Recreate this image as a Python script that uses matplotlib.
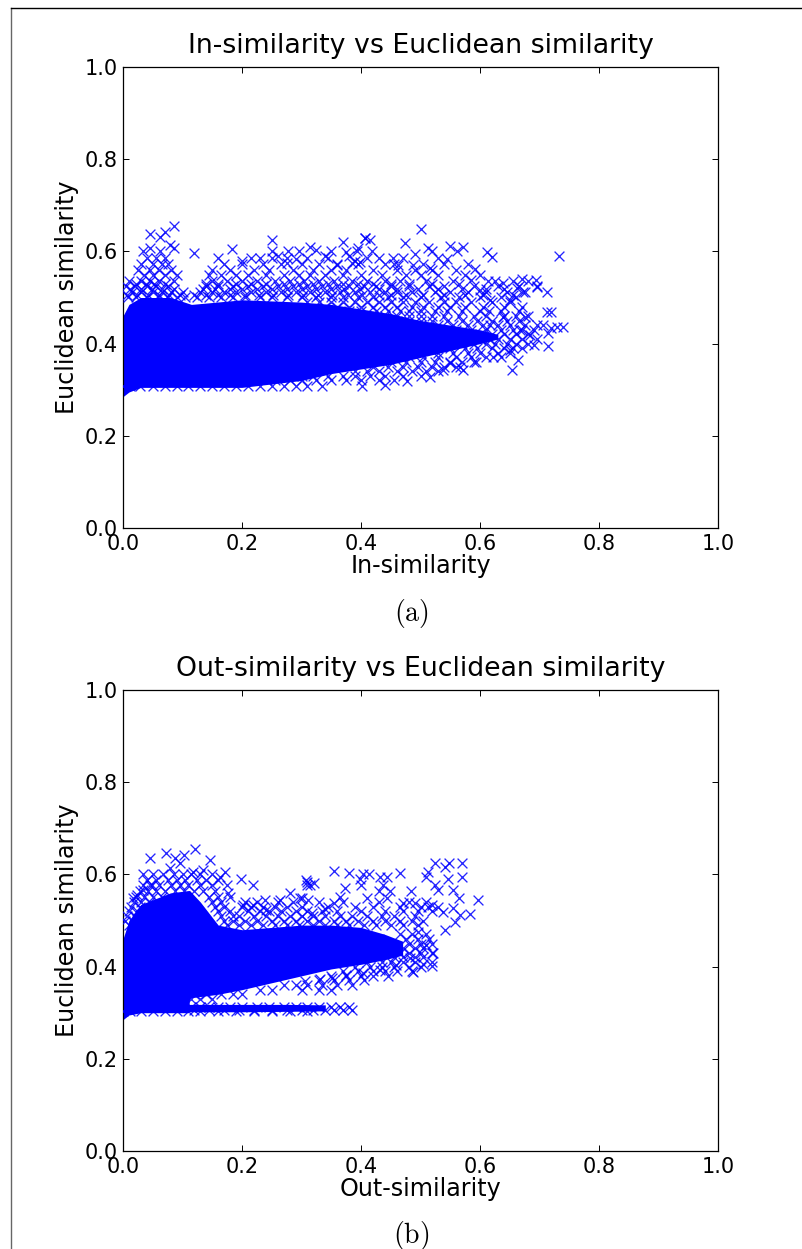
import matplotlib
matplotlib.use("Agg")
import matplotlib.pyplot as plt
from matplotlib.lines import Line2D

plt.rcParams['mathtext.fontset'] = 'cm'

# solid middle of each cloud, read as lower / upper edge
core_a_x = [0.0, 0.01, 0.03, 0.08, 0.115, 0.2, 0.3, 0.35, 0.4, 0.45, 0.5, 0.55, 0.6, 0.63]
core_a_low = [0.285, 0.295, 0.305, 0.305, 0.305, 0.305, 0.32, 0.335, 0.345, 0.355, 0.37, 0.385, 0.40, 0.41]
core_a_high = [0.46, 0.485, 0.50, 0.50, 0.485, 0.495, 0.49, 0.485, 0.475, 0.465, 0.45, 0.44, 0.43, 0.42]

core_b_x = [0.0, 0.01, 0.03, 0.08, 0.11, 0.112, 0.13, 0.16, 0.2, 0.25, 0.3, 0.35, 0.4, 0.44, 0.47]
core_b_low = [0.285, 0.295, 0.30, 0.30, 0.30, 0.332, 0.335, 0.34, 0.35, 0.365, 0.38, 0.395, 0.405, 0.415, 0.425]
core_b_high = [0.46, 0.50, 0.535, 0.56, 0.565, 0.565, 0.54, 0.49, 0.48, 0.485, 0.49, 0.49, 0.485, 0.47, 0.455]

band_b_x = [0.11, 0.2, 0.28, 0.34]
band_b_low = [0.302, 0.302, 0.303, 0.304]
band_b_high = [0.318, 0.318, 0.318, 0.317]

# single crosses
in_sim = [
    .085, .071, .045, .062, .079, .086, .034, .045, .062, .12, .183, .251, .251, .278, .296, .314, .325, .37, .407,
    .35, .375, .395, .39, .2, .23, .26, .275, .29, .34, .38, .36, .385,
    .5, .406, .415, .474, .513, .519, .55, .572, .561, .611, .62, .732, .394, .418, .398, .491, .544, .454, .463,
    .592, .516, .488, .67, .694, .695, .712, .639, .662, .673, .614, .6, .617, .651, .585, .712, .72, .676, .639,
    .74, .729, .72, .706, .715, .715, .69, .664, .653, .617, .667, .684, .572, .55, .516, .477, .441, .401, .594,
    .622, .651, .538, .567,
]
euc_a = [
    .655, .643, .638, .631, .614, .607, .601, .607, .6, .596, .606, .625, .601, .601, .6, .609, .603, .621, .63,
    .6, .598, .608, .58, .58, .585, .59, .575, .583, .59, .59, .57, .575,
    .648, .63, .625, .618, .607, .6, .611, .609, .6, .599, .587, .589, .6, .6, .578, .594, .583, .585, .57,
    .561, .563, .57, .541, .539, .522, .513, .531, .52, .513, .536, .516, .494, .494, .538, .469, .469, .458, .458,
    .435, .435, .433, .44, .422, .395, .397, .365, .343, .44, .43, .419, .343, .357, .328, .318, .31, .307, .36,
    .371, .386, .343, .35,
]

# crosses read band by band, one height to a row
rows_a_y = [.585, .572, .56, .548, .536, .53, .524, .518, .512, .506, .5, .49, .48, .47, .46, .45, .44, .43, .42, .41,
            .40, .39, .38, .37, .36, .35, .34, .33, .32, .308]
rows_a_x = [
    [.04, .055, .07, .16, .215, .25, .275, .31, .345, .41, .43, .47, .53],
    [.03, .05, .065, .075, .17, .2, .235, .265, .3, .33, .36, .395, .44, .455, .505, .54, .58],
    [.025, .045, .06, .08, .15, .18, .22, .245, .285, .32, .35, .375, .42, .46, .49, .52, .56],
    [.035, .05, .07, .09, .145, .165, .19, .21, .24, .27, .295, .315, .34, .37, .4, .435, .475, .5, .53, .575, .6],
    [.01, .03, .045, .06, .085, .15, .175, .2, .225, .255, .28, .305, .33, .355, .385, .41, .44, .465, .51, .555,
     .625, .655, .68],
    [.022, .038, .052, .07, .14, .16, .19, .215, .24, .27, .295, .32, .345, .37, .395, .42, .45, .48, .52, .565],
    [.005, .02, .04, .055, .075, .14, .16, .185, .21, .235, .26, .285, .31, .335, .36, .38, .405, .425, .45, .48,
     .515, .54, .59, .63, .665, .695],
    [.012, .03, .048, .066, .085, .135, .155, .18, .2, .225, .25, .275, .3, .325, .35, .372, .398, .43, .46, .495,
     .53, .57, .61, .64],
    [.015, .03, .05, .065, .08, .1, .13, .15, .17, .19, .215, .24, .265, .29, .315, .34, .365, .39, .415, .44, .46,
     .485, .525, .55, .58, .61, .645, .675],
    [.006, .024, .042, .06, .078, .095, .12, .14, .16, .18, .205, .228, .252, .278, .302, .328, .352, .378, .402, .43,
     .45, .475, .505, .54, .575, .605, .655],
    [.008, .022, .04, .06, .075, .09, .105, .125, .145, .165, .185, .205, .23, .25, .275, .3, .325, .35, .37, .395,
     .42, .445, .47, .5, .535, .565, .6, .635, .66],
    [.31, .33, .35, .37, .39, .41, .43, .45, .47, .49, .515, .54, .56, .585, .62, .65],
    [.34, .36, .38, .4, .42, .44, .46, .485, .505, .53, .55, .575, .605, .64, .67],
    [.38, .4, .425, .445, .465, .48, .5, .525, .545, .57, .6, .615, .635, .665],
    [.42, .44, .46, .48, .5, .52, .54, .565, .59, .61, .64, .66, .68],
    [.46, .48, .5, .52, .545, .57, .595, .62, .645, .665],
    [.47, .5, .53, .555, .58, .605, .63, .65, .675, .695],
    [.5, .53, .56, .585, .61, .635, .655, .67, .69],
    [.53, .56, .58, .6, .62, .64, .66, .68],
    [.55, .575, .6, .615, .63, .65, .67, .695],
    [.545, .57, .59, .61, .625, .645, .66, .68],
    [.52, .55, .575, .595, .62, .64, .655, .67],
    [.5, .53, .555, .58, .6, .63, .65],
    [.48, .505, .53, .56, .585, .61, .635],
    [.45, .475, .5, .525, .55, .57, .59],
    [.42, .445, .47, .495, .52, .54, .56],
    [.39, .41, .43, .46, .485, .51, .53],
    [.3, .32, .345, .37, .39, .415, .44, .47, .5],
    [.255, .28, .3, .325, .35, .375, .4, .43, .455],
    [0, .012, .028, .05, .07, .09, .11, .13, .15, .17, .19, .21, .23, .25, .27, .29, .31, .335],
]

out_sim = [
    .121, .072, .102, .087, .045, .146, .034, .172, .198, .218, .163, .135, .118, .096, .079, .045,
    .177, .238, .28, .309, .314, .017, .023, .034, .202, .219, .241, .264, .297,
    .524, .548, .569, .542, .355, .38, .404, .413, .398, .4, .466, .432, .444, .437, .431, .449, .444,
    .308, .31, .321, .373, .365, .513, .51, .569, .547, .524, .53, .555, .564, .597, .484, .3, .311, .41, .354,
    .34, .317, .471, .49, .555, .583, .566, .538, .52, .513, .558, .541, .521, .52, .487, .505, .459, .432, .404,
    .374, .351, .331, .306, .482, .51, .496,
]
euc_b = [
    .655, .646, .643, .636, .635, .631, .6, .606, .589, .576, .595, .61, .606, .624, .613, .577,
    .559, .544, .559, .584, .577, .548, .555, .567, .534, .534, .523, .544, .548,
    .624, .624, .624, .615, .608, .602, .6, .6, .591, .577, .602, .595, .595, .578, .563, .563, .548,
    .588, .577, .581, .571, .55, .606, .595, .595, .589, .577, .566, .566, .548, .544, .563, .548, .544, .548, .537,
    .526, .517, .537, .537, .527, .515, .512, .519, .534, .53, .497, .479, .429, .402, .388, .405, .404, .393, .386,
    .382, .375, .373, .368, .418, .447, .476,
]

rows_b_y = [.60, .588, .576, .564, .552, .54, .53, .52, .51, .5, .49, .47, .46, .45, .44, .43, .42, .41, .40,
            .39, .38, .37, .36, .35, .34, .33, .313, .306, .303]
rows_b_x = [
    [.05, .068, .085, .1, .115, .13, .15],
    [.04, .055, .075, .09, .105, .125, .14, .16],
    [.033, .048, .06, .08, .095, .11, .13, .15, .175],
    [.028, .042, .056, .07, .088, .102, .12, .135, .155],
    [.022, .036, .05, .065, .145, .16, .18],
    [.018, .03, .045, .15, .165, .205, .225, .26, .285, .33, .37, .43, .48, .51],
    [.014, .028, .155, .17, .2, .215, .235, .255, .275, .3, .345, .39, .42, .465, .5, .53],
    [.01, .024, .16, .18, .21, .23, .245, .265, .29, .31, .335, .36, .4, .44, .47, .495, .52],
    [.006, .02, .165, .185, .195, .22, .24, .26, .28, .3, .32, .34, .365, .385, .41, .435, .455, .49],
    [.003, .016, .17, .185, .205, .225, .25, .27, .29, .31, .33, .355, .375, .395, .42, .44, .465, .485, .505],
    [.01, .175, .195, .215, .235, .255, .275, .295, .32, .34, .36, .38, .405, .425, .45, .47, .495],
    [.465, .485, .51],
    [.43, .475, .495, .515],
    [.44, .48, .5, .52],
    [.45, .47, .49, .505],
    [.44, .465, .48, .5, .52],
    [.43, .455, .47, .49, .505],
    [.41, .435, .45, .47, .49, .52],
    [.39, .415, .435, .455, .48, .5],
    [.37, .395, .42, .44, .46, .485],
    [.35, .375, .4, .42, .445],
    [.33, .355, .38, .405],
    [.27, .29, .31, .335, .36, .385],
    [.23, .25, .3, .33, .35],
    [.12, .14, .165, .185, .2],
    [.115, .13, .15],
    [.115, .13, .145, .16, .18, .2, .225, .245, .27, .29, .31, .33, .35, .365, .38],
    [.12, .145, .17, .195, .22, .25, .275, .3, .32, .34, .355, .37, .385],
    [0, .012, .03, .05, .07, .09, .11, .13, .16, .19, .22, .25, .28, .31],
]

col = (0, 0, 1)


def flatten(rows_x, rows_y):
    xs = []
    ys = []
    for row, y in zip(rows_x, rows_y):
        for x in row:
            xs.append(x)
            ys.append(y)
    return xs, ys


def draw_panel(ax, xs, ys, title, xlabel):
    ax.scatter(xs, ys, marker='x', s=50, c=[col], linewidths=0.95, alpha=0.85, zorder=3)
    ax.set_xlim(0, 1)
    ax.set_ylim(0, 1)
    ax.set_xticks([0, 0.2, 0.4, 0.6, 0.8, 1.0])
    ax.set_yticks([0, 0.2, 0.4, 0.6, 0.8, 1.0])
    ax.tick_params(direction='in', top=True, right=True, length=4, width=0.7, labelsize=15)
    ax.tick_params(axis='x', pad=4)
    ax.tick_params(axis='y', pad=4)
    ax.set_title(title, fontsize=19.3, pad=10)
    ax.set_xlabel(xlabel, fontsize=17.2, labelpad=0)
    ax.set_ylabel('Euclidean similarity', fontsize=17.2, labelpad=4)
    for s in ax.spines.values():
        s.set_linewidth(0.9)


W, H = 802, 1249
fig = plt.figure(figsize=(W / 100, H / 100), dpi=100)

extra_x, extra_y = flatten(rows_a_x, rows_a_y)
ax1 = fig.add_axes([123 / W, 1 - 528 / H, 595 / W, 461 / H])
ax1.fill_between(core_a_x, core_a_low, core_a_high, color=col, lw=0, zorder=2)
draw_panel(ax1, in_sim + extra_x, euc_a + extra_y, 'In-similarity vs Euclidean similarity', 'In-similarity')

extra_x, extra_y = flatten(rows_b_x, rows_b_y)
ax2 = fig.add_axes([123 / W, 1 - 1151 / H, 595 / W, 461 / H])
ax2.fill_between(core_b_x, core_b_low, core_b_high, color=col, lw=0, zorder=2)
ax2.fill_between(band_b_x, band_b_low, band_b_high, color=col, lw=0, zorder=2)
draw_panel(ax2, out_sim + extra_x, euc_b + extra_y, 'Out-similarity vs Euclidean similarity', 'Out-similarity')

fig.text(411 / W, 1 - 613 / H, r'$\mathrm{(a)}$', fontsize=20, ha='center', va='center')
fig.text(411 / W, 1 - 1235 / H, r'$\mathrm{(b)}$', fontsize=20, ha='center', va='center')

# page border from the scanned source
fig.add_artist(Line2D([11 / W, 11 / W], [0, 1 - 8 / H], color='#666666', lw=1.0))
fig.add_artist(Line2D([11 / W, 1], [1 - 8 / H, 1 - 8 / H], color='black', lw=1.0))

fig.savefig('out.png', dpi=100)
